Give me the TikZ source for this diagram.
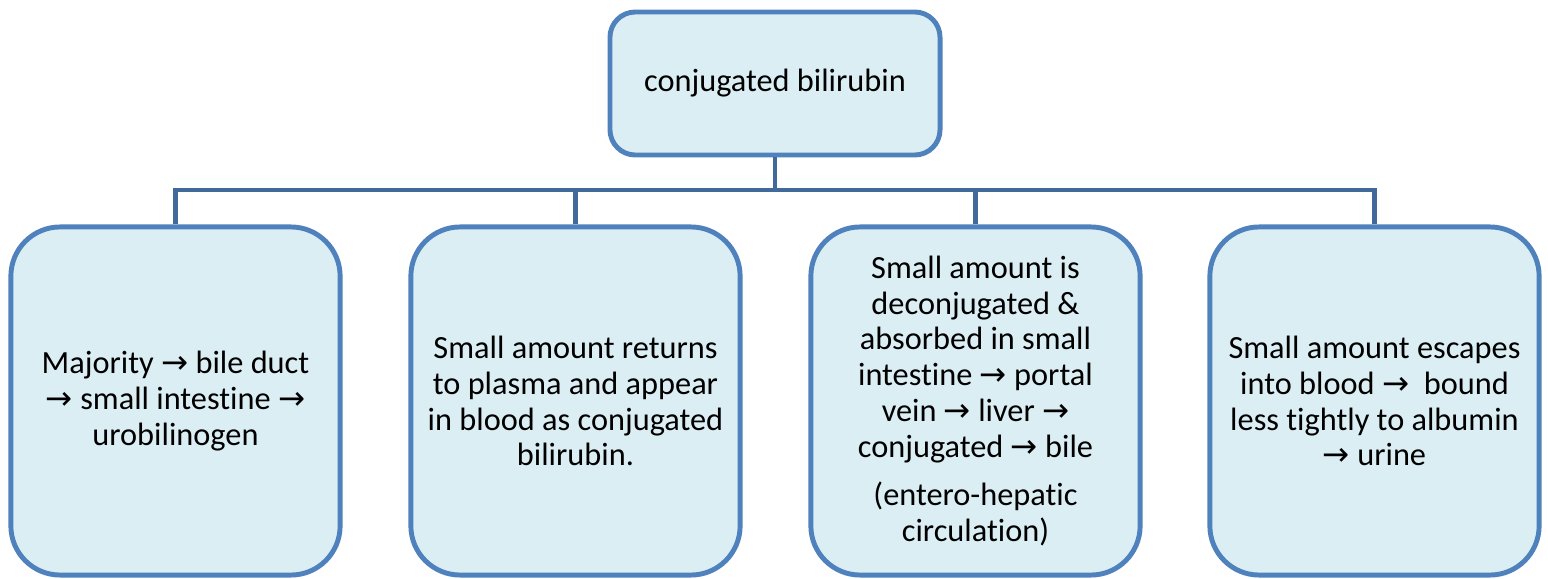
\documentclass[tikz,border=0pt]{standalone}
\usepackage{fontspec}
\setmainfont{Carlito}[Ligatures=NoCommon]
\newfontfamily\arrowfont{DejaVu Sans}
\newcommand{\toarr}{{\arrowfont\char"2192}}
\usetikzlibrary{positioning}
\definecolor{boxfill}{HTML}{DBEEF4}
\definecolor{boxline}{HTML}{4F81BD}
\definecolor{linkline}{HTML}{41699A}
\tikzset{
  topbox/.style={draw=boxline, fill=boxfill, line width=3.5pt, rounded corners=18pt,
    minimum width=8.25cm, minimum height=3.575cm, align=center,
    font=\fontsize{23}{25.5}\selectfont},
  leafbox/.style={topbox, rounded corners=35pt, minimum width=8.23cm, minimum height=8.7cm},
  link/.style={draw=linkline, line width=3.5pt}
}
\begin{document}
\begin{tikzpicture}[x=0.025cm, y=-0.025cm]
        \useasboundingbox (0,0) rectangle (1548,579);
        % top box
        \node[topbox] (conj) at (775,83.5) {conjugated bilirubin};
        % four outcomes
        \node[leafbox] (major)   at (175.5,401) {Majority \toarr{} bile duct\\ \toarr{} small intestine \toarr\\ urobilinogen};
        \node[leafbox] (plasma)  at (575.5,401) {Small amount returns\\ to plasma and appear\\ in blood as conjugated\\ bilirubin.};
        \node[leafbox] (entero)  at (975.5,401) {Small amount is\\ deconjugated \&\\ absorbed in small\\ intestine \toarr{} portal\\ vein \toarr{} liver \toarr\\ conjugated \toarr{} bile\\[9pt] (entero-hepatic\\ circulation)};
        \node[leafbox] (urine)   at (1374.5,401) {Small amount escapes\\ into blood \toarr{}\ \ bound\\ less tightly to albumin\\ \toarr{} urine};
        % connectors
        \coordinate (bus) at (775,190);
        \draw[link] (conj.south) -- (bus);
        \draw[link] (bus) -| (major.north);
        \draw[link] (bus) -| (plasma.north);
        \draw[link] (bus) -| (entero.north);
        \draw[link] (bus) -| (urine.north);
    \end{tikzpicture}
\end{document}
